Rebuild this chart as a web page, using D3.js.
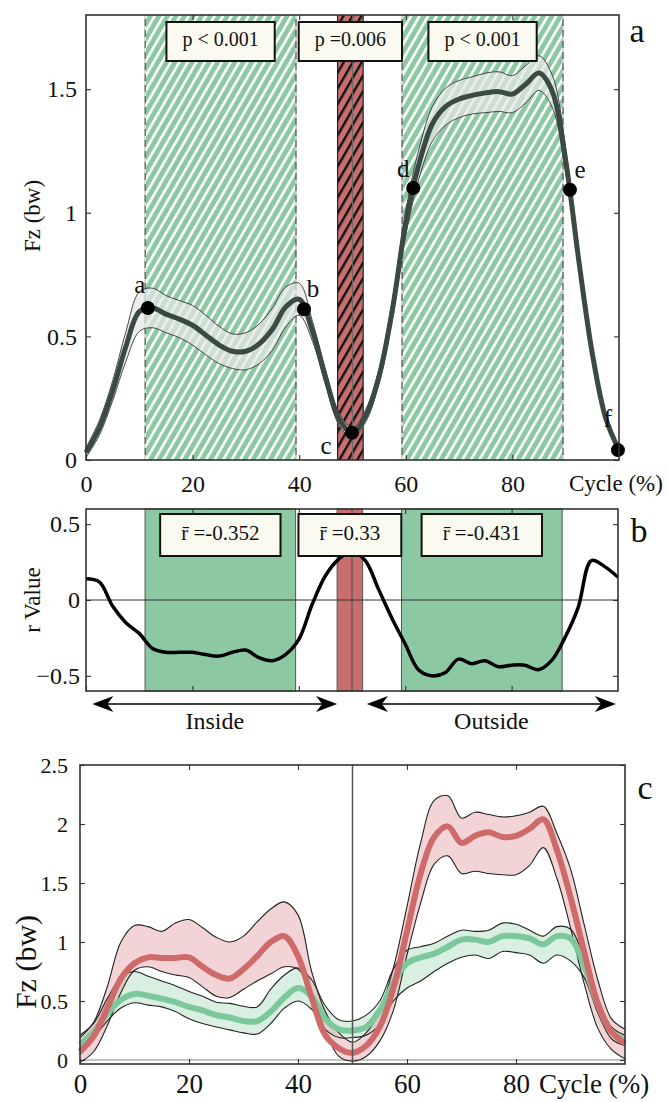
<!DOCTYPE html>
<html>
<head>
<meta charset="utf-8">
<script src="https://cdn.jsdelivr.net/npm/d3@7"></script>
<style>
body { margin: 0; background: #fff; }
text { font-family: "Liberation Serif", "DejaVu Serif", serif; fill: #111; }
</style>
</head>
<body>
<svg id="fig" width="669" height="1102"></svg>
<script>
// ---- data ----
var cycle = [0,2.5,5,7.5,10,12.5,15,17.5,20,22.5,25,27.5,30,32.5,35,37.5,40,42.5,45,47.5,50,
             52.5,55,57.5,60,62.5,65,67.5,70,72.5,75,77.5,80,82.5,85,87.5,90,92.5,95,97.5,100];

// panel a : mean Fz and its sd
var fzMean = [0.03,0.13,0.28,0.46,0.60,0.615,0.59,0.57,0.545,0.505,0.465,0.44,0.44,0.47,0.53,0.62,0.65,0.52,0.33,0.165,0.11,
              0.18,0.34,0.61,0.96,1.20,1.36,1.43,1.46,1.475,1.485,1.49,1.48,1.52,1.565,1.49,1.21,0.80,0.43,0.17,0.04];
var fzSd = [0.02,0.03,0.04,0.06,0.08,0.08,0.075,0.075,0.08,0.08,0.075,0.07,0.075,0.08,0.085,0.08,0.065,0.04,0.03,0.025,0.02,
            0.025,0.03,0.04,0.05,0.06,0.07,0.075,0.075,0.075,0.08,0.08,0.075,0.075,0.07,0.065,0.05,0.03,0.02,0.015,0.01];

var eventKeys = ["a","b","c","d","e","f"];
var eventCycle = [11.6, 40.9, 49.9, 61.4, 90.8, 99.8];
var eventFz = [0.615, 0.61, 0.11, 1.10, 1.093, 0.04];

// panel b : correlation
var rValue = [0.14,0.12,-0.04,-0.15,-0.22,-0.32,-0.345,-0.345,-0.345,-0.36,-0.37,-0.345,-0.33,-0.38,-0.40,-0.36,-0.26,-0.03,0.16,0.27,0.32,
              0.26,0.07,-0.12,-0.29,-0.46,-0.50,-0.48,-0.39,-0.42,-0.40,-0.44,-0.43,-0.43,-0.46,-0.40,-0.25,-0.05,0.26,0.22,0.15];

// significant regions (cycle %)
var greenRegions = [[11.1, 39.4], [59.3, 89.5]];
var redRegion = [47.2, 52.0];
var pLabels = ["p < 0.001", "p =0.006", "p < 0.001"];
var rLabels = ["r\u0304 =-0.352", "r\u0304 =0.33", "r\u0304 =-0.431"];
var sideLabels = ["Inside", "Outside"];

// panel c : two groups, mean and band edges
var redMean = [0.07,0.20,0.44,0.69,0.82,0.87,0.865,0.865,0.87,0.79,0.72,0.69,0.77,0.88,1.00,1.05,0.88,0.53,0.21,0.10,0.06,
               0.12,0.28,0.61,1.09,1.58,1.89,1.98,1.84,1.90,1.93,1.89,1.90,1.96,2.04,1.78,1.38,0.92,0.48,0.24,0.14];
var redUpper = [0.19,0.32,0.62,1.00,1.14,1.13,1.09,1.16,1.19,1.12,1.04,1.00,1.05,1.17,1.28,1.34,1.23,0.75,0.41,0.23,0.15,
                0.23,0.42,0.78,1.30,1.84,2.20,2.24,2.05,2.10,2.08,2.06,2.07,2.10,2.15,1.92,1.62,1.15,0.68,0.35,0.26];
var redLower = [-0.02,0.07,0.29,0.57,0.76,0.79,0.75,0.72,0.70,0.62,0.54,0.53,0.60,0.67,0.73,0.79,0.77,0.57,0.25,0.03,-0.01,
                0.03,0.16,0.42,0.89,1.33,1.66,1.73,1.58,1.60,1.58,1.57,1.57,1.65,1.80,1.54,1.12,0.65,0.27,0.09,0.01];
var greenMean = [0.13,0.24,0.39,0.51,0.56,0.545,0.52,0.49,0.45,0.42,0.38,0.36,0.33,0.33,0.41,0.53,0.61,0.54,0.35,0.26,0.25,
                 0.28,0.42,0.65,0.82,0.87,0.90,0.96,1.02,1.02,1.00,1.05,1.05,1.03,0.98,1.05,1.03,0.80,0.47,0.24,0.17];
var greenUpper = [0.21,0.31,0.52,0.70,0.75,0.71,0.67,0.63,0.58,0.54,0.49,0.48,0.455,0.45,0.60,0.72,0.78,0.68,0.46,0.34,0.33,
                  0.38,0.50,0.77,0.93,0.96,0.99,1.05,1.10,1.09,1.10,1.16,1.15,1.10,1.05,1.13,1.11,0.86,0.52,0.28,0.21];
var greenLower = [0.05,0.19,0.33,0.44,0.485,0.465,0.45,0.41,0.35,0.31,0.28,0.255,0.23,0.22,0.31,0.44,0.50,0.43,0.26,0.19,0.19,
                  0.21,0.30,0.50,0.61,0.67,0.75,0.82,0.87,0.89,0.86,0.92,0.91,0.89,0.82,0.89,0.84,0.70,0.40,0.18,0.12];

var xTicks = [0, 20, 40, 60, 80];

// ---- setup ----
var svg = d3.select("#fig");
var defs = svg.append("defs");
var GREEN = "#8cc9a2", RED = "#c96e6e";
var curve = d3.curveCatmullRom.alpha(0.5);

function makeHatch(id, bg, fg, gap, w) {
    var p = defs.append("pattern").attr("id", id)
        .attr("patternUnits", "userSpaceOnUse")
        .attr("width", gap).attr("height", 20)
        .attr("patternTransform", "rotate(30)");
    p.append("rect").attr("width", gap).attr("height", 20).attr("fill", bg);
    p.append("rect").attr("width", w).attr("height", 20).attr("fill", fg);
}
makeHatch("hatchGreen", GREEN, "#ffffff", 7.4, 2.6);
makeHatch("hatchRed", RED, "#111111", 7.8, 2.4);

// scales
var xa = d3.scaleLinear().domain([0, 100]).range([86, 619]);
var ya = d3.scaleLinear().domain([0, 1.8]).range([460, 15]);
var xb = d3.scaleLinear().domain([0, 100]).range([86, 618]);
var yb = d3.scaleLinear().domain([-0.6, 0.6]).range([691, 509]);
var xc = d3.scaleLinear().domain([0, 100]).range([80, 625]);
var yc = d3.scaleLinear().domain([-0.034, 2.5]).range([1064, 765]);

function styleAxis(g, size) {
    g.attr("font-family", "Liberation Serif, serif").attr("font-size", size);
    g.select(".domain").remove();
    g.selectAll(".tick line").attr("stroke", "#333").attr("stroke-width", 1.1);
    g.selectAll(".tick text").attr("fill", "#222");
}

// frame with inward ticks on all four sides
function frame(g, x, y, yTicks, opt) {
    var x0 = x.range()[0], x1 = x.range()[1], y0 = y.range()[0], y1 = y.range()[1];
    g.append("g").attr("transform", "translate(0," + y0 + ")")
        .call(d3.axisBottom(x).tickValues(xTicks).tickSize(-5).tickPadding(opt.xPad)
            .tickFormat(opt.xLabels ? d3.format("d") : ""))
        .call(styleAxis, opt.xSize);
    g.append("g").attr("transform", "translate(0," + y1 + ")")
        .call(d3.axisTop(x).tickValues(xTicks.slice(1)).tickSize(-5).tickFormat(""))
        .call(styleAxis, opt.xSize);
    g.append("g").attr("transform", "translate(" + x0 + ",0)")
        .call(d3.axisLeft(y).tickValues(yTicks).tickSize(-5).tickPadding(opt.yPad).tickFormat(d3.format("")))
        .call(styleAxis, opt.ySize);
    g.append("g").attr("transform", "translate(" + x1 + ",0)")
        .call(d3.axisRight(y).tickValues(yTicks).tickSize(-5).tickFormat(""))
        .call(styleAxis, opt.ySize);
    g.append("rect").attr("x", x0).attr("y", y1).attr("width", x1 - x0).attr("height", y0 - y1)
        .attr("fill", "none").attr("stroke", "#333").attr("stroke-width", 1.6);
}

function labelBox(g, cx, top, h, label, size, pad, baseline) {
    var t = g.append("text").attr("x", cx).attr("y", baseline).attr("text-anchor", "middle")
        .attr("font-size", size).text(label);
    var w = t.node().getComputedTextLength() + 2 * pad;
    g.insert("rect", "text").attr("x", cx - w / 2).attr("y", top).attr("width", w).attr("height", h)
        .attr("fill", "#fbfaf1").attr("stroke", "#111").attr("stroke-width", 2);
}

var regionMid = [
    (greenRegions[0][0] + greenRegions[0][1]) / 2,
    (redRegion[0] + redRegion[1]) / 2,
    (greenRegions[1][0] + greenRegions[1][1]) / 2
];

// ================= panel a =================
var gA = svg.append("g");
var aTop = ya(1.8), aBot = ya(0);
greenRegions.forEach(function (r) {
    gA.append("rect").attr("x", xa(r[0])).attr("y", aTop).attr("width", xa(r[1]) - xa(r[0]))
        .attr("height", aBot - aTop).attr("fill", "url(#hatchGreen)");
    r.forEach(function (v) {
        gA.append("line").attr("x1", xa(v)).attr("x2", xa(v)).attr("y1", aTop).attr("y2", aBot)
            .attr("stroke", "#555").attr("stroke-width", 1.3);
        gA.append("line").attr("x1", xa(v)).attr("x2", xa(v)).attr("y1", aTop).attr("y2", aBot)
            .attr("stroke", "#fff").attr("stroke-width", 1.3).attr("stroke-dasharray", "4,7");
    });
});
gA.append("rect").attr("x", xa(redRegion[0])).attr("y", aTop).attr("width", xa(redRegion[1]) - xa(redRegion[0]))
    .attr("height", aBot - aTop).attr("fill", "url(#hatchRed)");
redRegion.concat([50]).forEach(function (v, i) {
    gA.append("line").attr("x1", xa(v)).attr("x2", xa(v)).attr("y1", aTop).attr("y2", aBot)
        .attr("stroke", i < 2 ? "#222" : "#666").attr("stroke-width", 1.2);
});

var idx = d3.range(cycle.length);
gA.append("path").datum(idx)
    .attr("d", d3.area().curve(curve).x(function (i) { return xa(cycle[i]); })
        .y0(function (i) { return ya(fzMean[i] - fzSd[i]); })
        .y1(function (i) { return ya(fzMean[i] + fzSd[i]); }))
    .attr("fill", "#e4e6e4").attr("fill-opacity", 0.72);
[-1, 1].forEach(function (s) {
    gA.append("path").datum(idx)
        .attr("d", d3.line().curve(curve).x(function (i) { return xa(cycle[i]); })
            .y(function (i) { return ya(fzMean[i] + s * fzSd[i]); }))
        .attr("fill", "none").attr("stroke", "#333").attr("stroke-width", 0.9);
});
gA.append("path").datum(idx)
    .attr("d", d3.line().curve(curve).x(function (i) { return xa(cycle[i]); }).y(function (i) { return ya(fzMean[i]); }))
    .attr("fill", "none").attr("stroke", "#3b4943").attr("stroke-width", 5);

var evOffset = { a: [-8, -15], b: [9, -12], c: [-26, 21], d: [-10, -11], e: [10, -12], f: [-10, -23] };
eventKeys.forEach(function (k, i) {
    var px = xa(eventCycle[i]), py = ya(eventFz[i]);
    gA.append("circle").attr("cx", px).attr("cy", py).attr("r", 7).attr("fill", "#000");
    gA.append("text").attr("x", px + evOffset[k][0]).attr("y", py + evOffset[k][1])
        .attr("text-anchor", "middle").attr("font-size", 25).text(k);
});

pLabels.forEach(function (t, i) {
    labelBox(gA.append("g"), xa(regionMid[i]), 22, 39, t, 20, 16, 46);
});

frame(gA, xa, ya, [0, 0.5, 1, 1.5], { xPad: 15, xSize: 24, yPad: 9, ySize: 24, xLabels: true });
gA.append("text").attr("x", xa(100) - 50).attr("y", 491).attr("font-size", 23).text("Cycle (%)");
gA.append("text").attr("transform", "translate(40,216) rotate(-90)").attr("text-anchor", "middle")
    .attr("font-size", 23).text("Fz (bw)");
gA.append("text").attr("x", 637).attr("y", 42).attr("text-anchor", "middle").attr("font-size", 34).text("a");

// ================= panel b =================
var gB = svg.append("g");
var bTop = yb(0.6), bBot = yb(-0.6);
greenRegions.forEach(function (r) {
    gB.append("rect").attr("x", xb(r[0])).attr("y", bTop).attr("width", xb(r[1]) - xb(r[0]))
        .attr("height", bBot - bTop).attr("fill", GREEN).attr("stroke", "#555").attr("stroke-width", 1);
});
gB.append("rect").attr("x", xb(redRegion[0])).attr("y", bTop).attr("width", xb(redRegion[1]) - xb(redRegion[0]))
    .attr("height", bBot - bTop).attr("fill", RED).attr("stroke", "#555").attr("stroke-width", 1);
gB.append("line").attr("x1", xb(50)).attr("x2", xb(50)).attr("y1", bTop).attr("y2", bBot)
    .attr("stroke", "#555").attr("stroke-width", 1.2);
gB.append("line").attr("x1", xb(0)).attr("x2", xb(100)).attr("y1", yb(0)).attr("y2", yb(0))
    .attr("stroke", "#333").attr("stroke-width", 1);
gB.append("path").datum(idx)
    .attr("d", d3.line().curve(curve).x(function (i) { return xb(cycle[i]); }).y(function (i) { return yb(rValue[i]); }))
    .attr("fill", "none").attr("stroke", "#000").attr("stroke-width", 3.5);

rLabels.forEach(function (t, i) {
    labelBox(gB.append("g"), xb(regionMid[i]), 514, 42, t, 21, 21, 540);
});
frame(gB, xb, yb, [-0.5, 0, 0.5], { xPad: 15, xSize: 24, yPad: 6, ySize: 24, xLabels: false });
gB.append("text").attr("transform", "translate(40,600) rotate(-90)").attr("text-anchor", "middle")
    .attr("font-size", 23).text("r Value");
gB.append("text").attr("x", 639).attr("y", 542).attr("text-anchor", "middle").attr("font-size", 34).text("b");

// arrows under panel b
var arrowY = bBot + 13;
function arrowHead(g, tx, dir) {
    var L = 21, H = 8, N = 6;
    g.append("path").attr("d", "M" + tx + "," + arrowY +
        "L" + (tx + dir * L) + "," + (arrowY - H) +
        "L" + (tx + dir * (L - N)) + "," + arrowY +
        "L" + (tx + dir * L) + "," + (arrowY + H) + "Z").attr("fill", "#000");
}
[[1.2, 47.2], [52.8, 99.6]].forEach(function (a, i) {
    gB.append("line").attr("x1", xb(a[0]) + 10).attr("x2", xb(a[1]) - 10).attr("y1", arrowY).attr("y2", arrowY)
        .attr("stroke", "#000").attr("stroke-width", 1.5);
    arrowHead(gB, xb(a[0]), 1);
    arrowHead(gB, xb(a[1]), -1);
    gB.append("text").attr("x", xb((a[0] + a[1]) / 2)).attr("y", 729).attr("text-anchor", "middle")
        .attr("font-size", 24).text(sideLabels[i]);
});

// ================= panel c =================
var gC = svg.append("g");
function band(g, up, lo, fill, op) {
    g.append("path").datum(idx)
        .attr("d", d3.area().curve(curve).x(function (i) { return xc(cycle[i]); })
            .y0(function (i) { return yc(lo[i]); }).y1(function (i) { return yc(up[i]); }))
        .attr("fill", fill).attr("fill-opacity", op);
}
function edge(g, vals, color, w) {
    g.append("path").datum(idx)
        .attr("d", d3.line().curve(curve).x(function (i) { return xc(cycle[i]); }).y(function (i) { return yc(vals[i]); }))
        .attr("fill", "none").attr("stroke", color).attr("stroke-width", w);
}
gC.append("line").attr("x1", xc(0)).attr("x2", xc(100)).attr("y1", yc(0)).attr("y2", yc(0))
    .attr("stroke", "#888").attr("stroke-width", 1);
band(gC, greenUpper, greenLower, "#a9dcbd", 0.45);
band(gC, redUpper, redLower, "#e7a9ae", 0.5);
[greenUpper, greenLower, redUpper, redLower].forEach(function (v) { edge(gC, v, "#222", 1.1); });
edge(gC, greenMean, "#7dc89b", 6);
edge(gC, redMean, "#cf6a6b", 6);
gC.append("line").attr("x1", xc(50)).attr("x2", xc(50)).attr("y1", yc(2.5)).attr("y2", yc(-0.034))
    .attr("stroke", "#555").attr("stroke-width", 1.5);

frame(gC, xc, yc, [0, 0.5, 1, 1.5, 2, 2.5], { xPad: 10, xSize: 27, yPad: 12, ySize: 22, xLabels: true });
gC.append("text").attr("x", xc(100) - 86).attr("y", 1093).attr("font-size", 27).text("Cycle (%)");
gC.append("text").attr("transform", "translate(36,962) rotate(-90)").attr("text-anchor", "middle")
    .attr("font-size", 30).text("Fz (bw)");
gC.append("text").attr("x", 645).attr("y", 799).attr("text-anchor", "middle").attr("font-size", 34).text("c");
</script>
</body>
</html>
